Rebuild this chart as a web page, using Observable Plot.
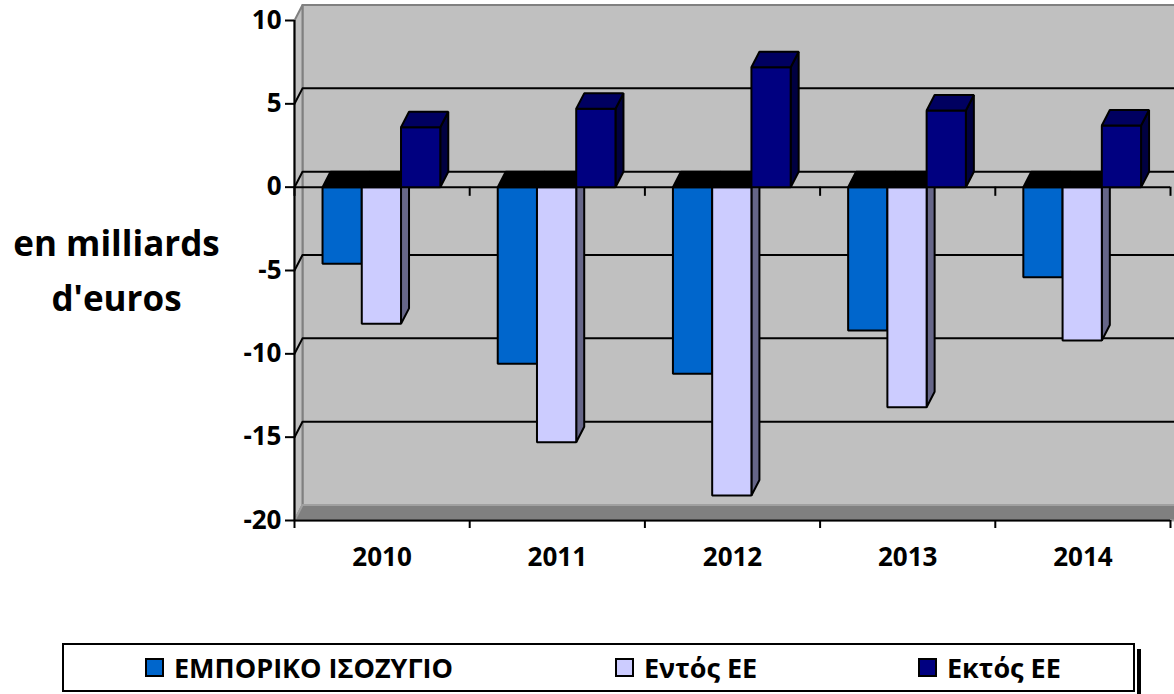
<!DOCTYPE html>
<html>
<head>
<meta charset="utf-8">
<script src="https://cdn.jsdelivr.net/npm/d3@7"></script>
<script src="https://cdn.jsdelivr.net/npm/@observablehq/plot@0.6"></script>
<style>
  html, body { margin: 0; padding: 0; background: #fff; overflow: hidden; }
  body { width: 1174px; height: 694px; position: relative; font-family: "Open Sans", sans-serif; }
  #chart { position: absolute; left: 0; top: 0; }
  #legend { position: absolute; left: 62px; top: 643px; width: 1069px; height: 45px;
            border: 2px solid #000; background: #fff;
            box-shadow: 2px 2px 0 0 #fff, 6px 6px 0 0 #000; }
  .item { position: absolute; top: 0; height: 45px; display: flex; align-items: center;
          font-weight: bold; font-size: 27px; color: #000; white-space: nowrap; }
  .sw { width: 15px; height: 15px; border: 2px solid #000; margin-right: 10px; }
</style>
</head>
<body>
<div id="chart"></div>
<div id="legend"></div>
<script>
// ---- data ----
const years = ["2010", "2011", "2012", "2013", "2014"];
const seriesNames = ["ΕΜΠΟΡΙΚΟ ΙΣΟΖΥΓΙΟ", "Εντός ΕΕ", "Εκτός ΕΕ"];
const balance = [-4.6, -10.6, -11.2, -8.6, -5.4];
const intraEU = [-8.2, -15.3, -18.5, -13.2, -9.2];
const extraEU = [3.6, 4.7, 7.2, 4.6, 3.7];
const yTicks = [10, 5, 0, -5, -10, -15, -20];
const yLabel = "en milliards\nd'euros";

// ---- styling ----
const frontColors = ["#0066CC", "#CCCCFF", "#000080"];
const sideColors = ["#003366", "#666688", "#000040"];
const topColors = ["#003399", "#9999CC", "#000060"];
const series = [balance, intraEU, extraEU];
const offsets = [0.16, 0.384, 0.608];
const W = 0.224;          // bar width in category units
const DX = 8 / 175.2;     // 3D depth, x units
const DY = 15.5 / 16.67;  // 3D depth, y units
const n = years.length;
const yMin = -20, yMax = 10;

// ---- geometry ----
const polys = [];
let pid = 0;
function poly(pts, fill) {
  const id = pid++;
  pts.forEach(([x, y]) => polys.push({id, x, y, fill}));
}
// walls
const backWall = [[DX, yMin + DY], [n + DX + 0.3, yMin + DY], [n + DX + 0.3, yMax + DY], [DX, yMax + DY]];
const leftWall = [[0, yMin], [0, yMax], [DX, yMax + DY], [DX, yMin + DY]];
const floor = [[0, yMin], [n + 0.3, yMin], [n + DX + 0.3, yMin + DY], [DX, yMin + DY]];
const walls = [];
[[backWall, "#c0c0c0", "#808080"], [leftWall, "#c0c0c0", "#808080"], [floor, "#808080", "#a0a0a0"]]
  .forEach(([pts, fill, stroke], k) => pts.forEach(([x, y]) => walls.push({id: k, x, y, fill, stroke})));

// gridlines (back wall + left wall)
const grid = [];
yTicks.filter(t => t > yMin && t < yMax).forEach(t => {
  grid.push({t, x: 0, y: t}, {t, x: DX, y: t + DY}, {t, x: n + DX + 0.3, y: t + DY});
});

// bars
for (let i = 0; i < n; i++) {
  for (let s = 0; s < 3; s++) {
    const v = series[s][i];
    const x1 = i + offsets[s], x2 = x1 + W;
    poly([[x2, 0], [x2 + DX, DY], [x2 + DX, v + DY], [x2, v]], sideColors[s]);
    poly([[x1, 0], [x2, 0], [x2, v], [x1, v]], frontColors[s]);
    if (v > 0) poly([[x1, v], [x2, v], [x2 + DX, v + DY], [x1 + DX, v + DY]], topColors[s]);
    else poly([[x1, 0], [x2, 0], [x2 + DX, DY], [x1 + DX, DY]], "#000000");
  }
}
const boundaries = d3.range(0, n + 1);
const centers = years.map((_, i) => i + 0.5);

const chart = Plot.plot({
  width: 1174,
  height: 600,
  marginLeft: 294,
  marginRight: 4,
  marginTop: 20,
  marginBottom: 80,
  style: {fontFamily: "Open Sans", fontWeight: "bold", color: "#000", background: "transparent", overflow: "visible"},
  x: {domain: [0, n], label: null},
  y: {domain: [yMin, yMax], label: null},
  color: {type: "identity"},
  marks: [
    Plot.line(walls, {x: "x", y: "y", z: "id", fill: "fill", stroke: "stroke", strokeWidth: 2, curve: "linear-closed"}),
    Plot.line(grid, {x: "x", y: "y", z: "t", stroke: "#000", strokeWidth: 2}),
    // zero-line ticks
    Plot.ruleX(boundaries, {x: d => d, y1: 0, y2: -0.55, stroke: "#000", strokeWidth: 2}),
    Plot.ruleY([0], {x1: 0, x2: n, stroke: "#000", strokeWidth: 2}),
    Plot.line(polys, {x: "x", y: "y", z: "id", fill: "fill", stroke: "#000", strokeWidth: 2, curve: "linear-closed", strokeLinejoin: "miter"}),
    // axes
    Plot.ruleX([0], {y1: yMin, y2: yMax, stroke: "#000", strokeWidth: 2}),
    Plot.ruleY([yMin], {x1: 0, x2: n, stroke: "#000", strokeWidth: 2}),
    Plot.axisY(yTicks, {tickSize: 9, tickPadding: 4, fontSize: 26, strokeWidth: 2, stroke: "#000", fill: "#000", tickFormat: d => String(d)}),
    Plot.axisX(boundaries, {tickSize: 8, tickFormat: () => "", strokeWidth: 2, stroke: "#000"}),
    Plot.axisX(centers, {tickSize: 0, tickPadding: 27, fontSize: 26, fill: "#000", tickFormat: d => years[Math.floor(d)]}),
    Plot.text([yLabel], {frameAnchor: "left", dx: -178, dy: -5, textAnchor: "middle", lineAnchor: "middle", fontSize: 35, fontWeight: "bold", lineHeight: 1.58, fill: "#000"})
  ]
});
document.getElementById("chart").appendChild(chart);

// legend
const legend = document.getElementById("legend");
const itemLeft = [81, 551, 854];
seriesNames.forEach((name, k) => {
  const it = document.createElement("div");
  it.className = "item";
  it.style.left = itemLeft[k] + "px";
  const sw = document.createElement("div");
  sw.className = "sw";
  sw.style.background = frontColors[k];
  const tx = document.createElement("span");
  tx.textContent = name;
  it.appendChild(sw); it.appendChild(tx);
  legend.appendChild(it);
});
</script>
</body>
</html>
